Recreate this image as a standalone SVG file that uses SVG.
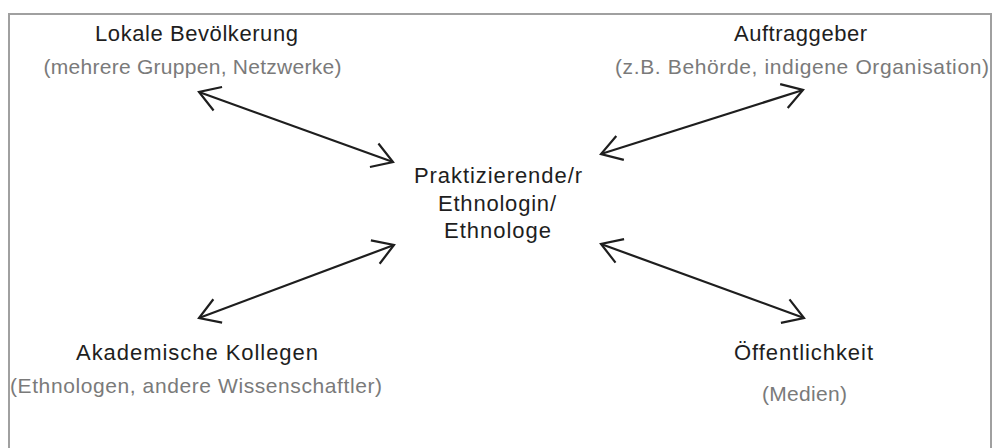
<svg xmlns="http://www.w3.org/2000/svg" width="992" height="448" viewBox="0 0 992 448">
<style>
.t{font-family:"Liberation Sans",Arial,sans-serif;font-size:22px;fill:#1e1e1e;text-anchor:middle}
.s{font-family:"Liberation Sans",Arial,sans-serif;font-size:21px;fill:#7a7a7a;text-anchor:middle}
.c{stroke:#1e1e1e;stroke-width:2.2;fill:none}
</style>
<defs>
<marker id="ah" markerUnits="userSpaceOnUse" viewBox="-22 -14 24 28" refX="0" refY="0" markerWidth="24" markerHeight="28" orient="auto-start-reverse" overflow="visible">
<path d="M-20,-12.5 L0,0 L-20,12.5" fill="none" stroke="#1e1e1e" stroke-width="2.2" stroke-linejoin="miter"/>
</marker>
</defs>
<rect x="9" y="14" width="982" height="450" fill="#fff" stroke="#a0a0a0" stroke-width="2"/>
<g id="connectors">
<line class="c" x1="199" y1="92" x2="393" y2="162" marker-start="url(#ah)" marker-end="url(#ah)"/>
<line class="c" x1="601" y1="154" x2="803" y2="90" marker-start="url(#ah)" marker-end="url(#ah)"/>
<line class="c" x1="199" y1="318" x2="394" y2="245" marker-start="url(#ah)" marker-end="url(#ah)"/>
<line class="c" x1="601" y1="244" x2="804" y2="318" marker-start="url(#ah)" marker-end="url(#ah)"/>
</g>
<g id="lokale">
<text class="t" x="196.5" y="41" textLength="203" lengthAdjust="spacing">Lokale Bevölkerung</text>
<text class="s" x="192.5" y="74" textLength="298" lengthAdjust="spacing">(mehrere Gruppen, Netzwerke)</text>
</g>
<g id="auftraggeber">
<text class="t" x="800.5" y="41" textLength="133" lengthAdjust="spacing">Auftraggeber</text>
<text class="s" x="802" y="74" textLength="374" lengthAdjust="spacing">(z.B. Behörde, indigene Organisation)</text>
</g>
<g id="center">
<text class="t" x="498" y="183" textLength="168" lengthAdjust="spacing">Praktizierende/r</text>
<text class="t" x="497" y="211" textLength="118" lengthAdjust="spacing">Ethnologin/</text>
<text class="t" x="497.5" y="238" textLength="107" lengthAdjust="spacing">Ethnologe</text>
</g>
<g id="akademische">
<text class="t" x="197" y="360" textLength="242" lengthAdjust="spacing">Akademische Kollegen</text>
<text class="s" x="196" y="393" textLength="372" lengthAdjust="spacing">(Ethnologen, andere Wissenschaftler)</text>
</g>
<g id="oeffentlichkeit">
<text class="t" x="803.5" y="360" textLength="139" lengthAdjust="spacing">Öffentlichkeit</text>
<text class="s" x="804.5" y="401" textLength="85" lengthAdjust="spacing">(Medien)</text>
</g>
</svg>
